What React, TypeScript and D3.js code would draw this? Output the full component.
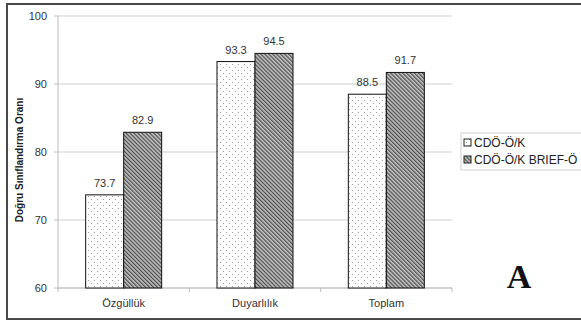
import React from "react";
import * as d3 from "d3";

const categories = ["Özgüllük", "Duyarlılık", "Toplam"];
const seriesNames = ["CDÖ-Ö/K", "CDÖ-Ö/K BRIEF-Ö"];
const seriesA = [73.7, 93.3, 88.5];
const seriesB = [82.9, 94.5, 91.7];
const yTicks = [60, 70, 80, 90, 100];

const W = 581;
const H = 325;
const m = { left: 58, right: 452, top: 16, bottom: 288 };

export default function App() {
  const x = d3.scaleBand<string>().domain(categories).range([m.left, m.right]).paddingInner(0).paddingOuter(0);
  const inner = d3.scaleBand<number>().domain([0, 1]).range([0, 76]);
  const y = d3.scaleLinear().domain([60, 100]).range([m.bottom, m.top]);
  const off = (x.bandwidth() - 76) / 2;
  const series = [seriesA, seriesB];
  const fills = ["url(#dots)", "url(#hatch)"];
  const font = "'Liberation Sans', Arial, sans-serif";
  const boundaries = [m.left, ...categories.map((c) => (x(c) as number) + x.bandwidth())];

  return (
    <svg width={W} height={H} style={{ position: "absolute", left: 0, top: 0 }} fontFamily={font}>
      <defs>
        <pattern id="dots" width="6" height="6" patternUnits="userSpaceOnUse">
          <rect width="6" height="6" fill="#fff" />
          <rect x="1" y="1" width="1" height="1" fill="#999" />
          <rect x="4" y="4" width="1" height="1" fill="#999" />
        </pattern>
        <pattern id="hatch" width="2.8" height="2.8" patternUnits="userSpaceOnUse" patternTransform="rotate(-45)">
          <rect width="2.8" height="2.8" fill="#c4c4c4" />
          <rect x="0" y="0" width="1.2" height="2.8" fill="#4a4a4a" />
        </pattern>
      </defs>
      <rect x={0} y={0} width={W} height={H} fill="#fff" />
      {/* outer frame */}
      <rect x={7} y={4} width={600} height={315} fill="none" stroke="#4a4a4a" strokeWidth={2} />
      {/* gridlines */}
      {yTicks.map((t) => (
        <line key={t} x1={m.left} x2={m.right} y1={y(t)} y2={y(t)} stroke="#cfcfcf" strokeWidth={1} />
      ))}
      {/* y axis */}
      <line x1={m.left} x2={m.left} y1={m.top} y2={m.bottom} stroke="#bdbdbd" />
      {yTicks.map((t) => (
        <g key={"yt" + t}>
          <line x1={m.left - 4} x2={m.left} y1={y(t)} y2={y(t)} stroke="#bdbdbd" />
          <text x={m.left - 11} y={y(t)} dy="0.35em" textAnchor="end" fontSize={11} fill="#333">
            {t}
          </text>
        </g>
      ))}
      {/* x axis */}
      <line x1={m.left} x2={m.right} y1={m.bottom} y2={m.bottom} stroke="#bdbdbd" />
      {boundaries.map((b, i) => (
        <line key={"xb" + i} x1={b} x2={b} y1={m.bottom} y2={m.bottom + 4} stroke="#bdbdbd" />
      ))}
      {categories.map((c) => (
        <text key={c} x={(x(c) as number) + x.bandwidth() / 2} y={m.bottom + 19} textAnchor="middle" fontSize={11} fill="#333">
          {c}
        </text>
      ))}
      {/* bars */}
      {series.map((s, si) =>
        s.map((v, ci) => {
          const bx = (x(categories[ci]) as number) + off + (inner(si) as number);
          const by = y(v);
          return (
            <g key={si + "-" + ci}>
              <rect x={bx} y={by} width={inner.bandwidth()} height={m.bottom - by} fill={fills[si]} stroke="#111" strokeWidth={1} />
              <text x={bx + inner.bandwidth() / 2} y={by - 8} textAnchor="middle" fontSize={11} fill="#333">
                {v.toFixed(1)}
              </text>
            </g>
          );
        })
      )}
      {/* y title */}
      <text transform={`translate(23,${(m.top + m.bottom) / 2 + 8}) rotate(-90)`} textAnchor="middle" fontSize={10} fontWeight="bold" fill="#222">
        Doğru Sınıflandırma Oranı
      </text>
      {/* legend */}
      <rect x={461} y={133} width={124} height={37} fill="#fff" stroke="#cfcfcf" />
      {seriesNames.map((n, i) => (
        <g key={n}>
          <rect x={464} y={139 + i * 17} width={7} height={7} fill={fills[i]} stroke="#222" strokeWidth={1} />
          <text x={474} y={143 + i * 17} dy="0.35em" fontSize={12} fill="#222">
            {n}
          </text>
        </g>
      ))}
      <text x={519} y={288} textAnchor="middle" fontSize={34} fontWeight="bold" fontFamily="'Liberation Serif', 'Times New Roman', serif" fill="#111">
        A
      </text>
    </svg>
  );
}
